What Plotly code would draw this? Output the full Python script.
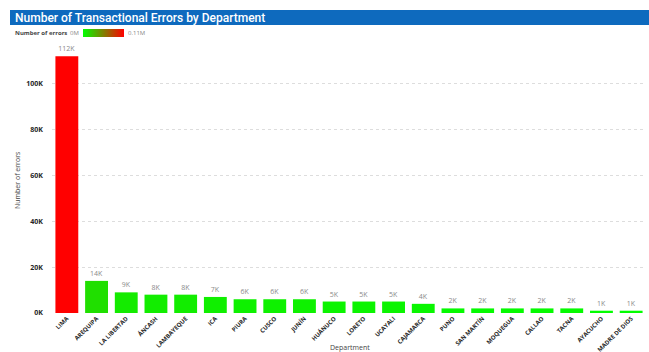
import plotly.graph_objects as go

# Transactional errors per department (thousands)
departments = ["LIMA", "AREQUIPA", "LA LIBERTAD", "ÁNCASH", "LAMBAYEQUE", "ICA", "PIURA",
               "CUSCO", "JUNÍN", "HUÁNUCO", "LORETO", "UCAYALI", "CAJAMARCA", "PUNO",
               "SAN MARTÍN", "MOQUEGUA", "CALLAO", "TACNA", "AYACUCHO", "MADRE DE DIOS"]
errors_k = [112, 14, 9, 8, 8, 7, 6, 6, 6, 5, 5, 5, 4, 2, 2, 2, 2, 2, 1, 1]
y_ticks_k = [0, 20, 40, 60, 80, 100]

errors = [v * 1000 for v in errors_k]
labels = [f"{v}K" for v in errors_k]

W, H = 649, 352
L, R, T, B = 52, 3, 47, 39
plot_w = W - L - R
plot_h = H - T - B

def px_x(x):
    return (x - L) / plot_w

def px_y(y):
    return (H - B - y) / plot_h

font = "Open Sans"

fig = go.Figure()
fig.add_trace(go.Bar(
    x=departments,
    y=errors,
    text=labels,
    textposition="outside",
    cliponaxis=False,
    textfont=dict(family=font, size=7, color="#8a8a8a"),
    marker=dict(
        color=errors,
        colorscale=[[0, "rgb(0,255,0)"], [1, "rgb(255,0,0)"]],
        cmin=0,
        cmax=max(errors),
        line=dict(width=0),
        showscale=True,
        colorbar=dict(
            orientation="h",
            x=px_x(83), xanchor="left",
            y=px_y(33), yanchor="middle",
            len=41, lenmode="pixels",
            thickness=8, thicknessmode="pixels",
            xpad=0, ypad=0,
            outlinewidth=0,
            showticklabels=False,
            ticks="",
        ),
    ),
    hovertemplate="%{x}: %{y}<extra></extra>",
))

fig.update_layout(
    width=W, height=H,
    margin=dict(l=L, r=R, t=T, b=B, autoexpand=False),
    paper_bgcolor="white",
    plot_bgcolor="white",
    bargap=0.23,
    showlegend=False,
    font=dict(family=font, color="#333"),
    xaxis=dict(
        tickangle=-45,
        tickfont=dict(family=font, size=6, color="#252525", weight="bold"),
        showgrid=False,
        showline=False,
        ticks="",
        automargin=False,
    ),
    yaxis=dict(
        range=[0, 116000],
        tickvals=[v * 1000 for v in y_ticks_k],
        ticktext=[f"{v}K" for v in y_ticks_k],
        tickfont=dict(family=font, size=7, color="#252525", weight="bold"),
        ticklabelstandoff=8,
        showgrid=True,
        gridcolor="#dddddd",
        griddash="dot",
        gridwidth=1,
        zeroline=False,
        showline=False,
        ticks="",
        automargin=False,
    ),
)

# Title banner
fig.add_shape(type="rect", xref="paper", yref="paper",
              x0=px_x(10), x1=px_x(649), y0=px_y(10), y1=px_y(25),
              fillcolor="#0e6abe", line=dict(width=0), layer="above")
fig.add_annotation(text="Number of Transactional Errors by Department",
                   xref="paper", yref="paper", x=px_x(13), y=px_y(17.5),
                   xanchor="left", yanchor="middle", showarrow=False,
                   font=dict(family="Roboto", size=12, color="white", weight=500))

# Colour legend captions
fig.add_annotation(text="Number of errors", xref="paper", yref="paper",
                   x=px_x(13), y=px_y(33), xanchor="left", yanchor="middle",
                   showarrow=False, font=dict(family=font, size=6, color="#444", weight="bold"))
fig.add_annotation(text="0M", xref="paper", yref="paper",
                   x=px_x(81), y=px_y(33), xanchor="right", yanchor="middle",
                   showarrow=False, font=dict(family=font, size=6, color="#888"))
fig.add_annotation(text="0.11M", xref="paper", yref="paper",
                   x=px_x(126), y=px_y(33), xanchor="left", yanchor="middle",
                   showarrow=False, font=dict(family=font, size=6, color="#888"))

# Axis titles
fig.add_annotation(text="Number of errors", xref="paper", yref="paper",
                   x=px_x(17), y=px_y(180), xanchor="center", yanchor="middle",
                   textangle=-90, showarrow=False,
                   font=dict(family=font, size=7, color="#444"))
fig.add_annotation(text="Department", xref="paper", yref="paper",
                   x=px_x(350), y=px_y(347), xanchor="center", yanchor="middle",
                   showarrow=False, font=dict(family=font, size=7, color="#444"))

fig.write_html("out.html")
